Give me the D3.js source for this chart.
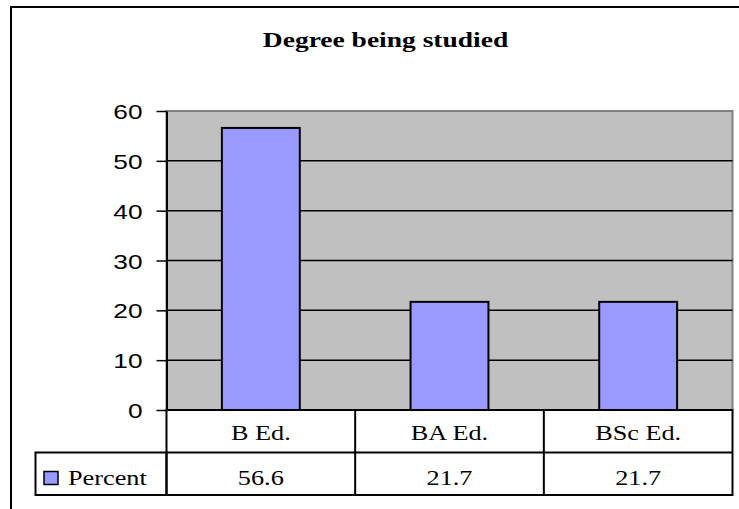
<!DOCTYPE html>
<html>
<head>
<meta charset="utf-8">
<script src="https://cdn.jsdelivr.net/npm/d3@7"></script>
<style>
  html, body { margin: 0; padding: 0; background: #fff; overflow: hidden; }
</style>
</head>
<body>
<svg id="chart" width="739" height="509"></svg>
<script>
const title = "Degree being studied";
const categories = ["B Ed.", "BA Ed.", "BSc Ed."];
const percent = [56.6, 21.7, 21.7];
const seriesName = "Percent";
const yTicks = [0, 10, 20, 30, 40, 50, 60];

const width = 739, height = 509;
const plot = { left: 166.5, right: 732.5, top: 111, bottom: 410 };
const rowH = 42.5;
const stretch = 1.25; // text in the reference is widened horizontally
const serif = "'Liberation Serif', 'Times New Roman', serif";
const sans = "'Liberation Sans', Arial, sans-serif";

const svg = d3.select("#chart").attr("viewBox", [0, 0, width, height]);

// outer chart border (runs off the right and bottom edges)
svg.append("rect")
  .attr("x", 11).attr("y", 7)
  .attr("width", width + 20).attr("height", height + 20)
  .attr("fill", "#fff").attr("stroke", "#000").attr("stroke-width", 2);

// title
svg.append("text")
  .attr("transform", `translate(385.5,47) scale(${stretch},1)`)
  .attr("text-anchor", "middle")
  .attr("font-family", serif).attr("font-weight", "bold").attr("font-size", 22)
  .text(title);

const x = d3.scaleBand().domain(categories).range([plot.left, plot.right]);
const y = d3.scaleLinear().domain([0, 60]).range([plot.bottom, plot.top]);

// plot area
svg.append("rect")
  .attr("x", plot.left).attr("y", plot.top)
  .attr("width", plot.right - plot.left).attr("height", plot.bottom - plot.top)
  .attr("fill", "#c0c0c0").attr("stroke", "#808080").attr("stroke-width", 2);

// gridlines
svg.append("g")
  .selectAll("line")
  .data(yTicks.filter((d) => d > 0 && d < 60))
  .join("line")
  .attr("x1", plot.left).attr("x2", plot.right)
  .attr("y1", (d) => y(d)).attr("y2", (d) => y(d))
  .attr("stroke", "#000").attr("stroke-width", 1.5);

// bars
const barW = x.bandwidth() * 0.413;
svg.append("g")
  .selectAll("rect")
  .data(percent)
  .join("rect")
  .attr("x", (d, i) => x(categories[i]) + (x.bandwidth() - barW) / 2)
  .attr("y", (d) => y(d))
  .attr("width", barW)
  .attr("height", (d) => y(0) - y(d))
  .attr("fill", "#9999ff").attr("stroke", "#000").attr("stroke-width", 2);

// y axis
const yAxis = (g) =>
  g.attr("transform", `translate(${plot.left},0)`)
    .call(d3.axisLeft(y).tickValues(yTicks).tickSize(10).tickSizeOuter(0))
    .call((g) => g.select(".domain").attr("stroke", "#000").attr("stroke-width", 2))
    .call((g) => g.selectAll(".tick line").attr("stroke", "#000").attr("stroke-width", 1.5))
    .call((g) => g.selectAll(".tick text")
      .attr("x", -24 / stretch)
      .attr("dy", "0.36em")
      .attr("transform", `scale(${stretch},1)`)
      .attr("fill", "#000")
      .attr("font-family", sans)
      .attr("font-size", 21));
svg.append("g").call(yAxis);

// data table
const table = svg.append("g")
  .attr("fill", "none").attr("stroke", "#000").attr("stroke-width", 2);
table.append("rect")
  .attr("x", plot.left).attr("y", plot.bottom)
  .attr("width", plot.right - plot.left).attr("height", rowH * 2);
table.append("rect")
  .attr("x", 35.5).attr("y", plot.bottom + rowH)
  .attr("width", plot.left - 35.5).attr("height", rowH);
table.append("line")
  .attr("x1", plot.left).attr("x2", plot.right)
  .attr("y1", plot.bottom + rowH).attr("y2", plot.bottom + rowH);
table.selectAll("line.col")
  .data(categories.slice(1))
  .join("line")
  .attr("class", "col")
  .attr("x1", (d) => x(d)).attr("x2", (d) => x(d))
  .attr("y1", plot.bottom).attr("y2", plot.bottom + rowH * 2);

const cellText = (sel, baseline) =>
  sel.attr("transform", (d, i) =>
      `translate(${x(categories[i]) + x.bandwidth() / 2},${baseline}) scale(${stretch},1)`)
    .attr("text-anchor", "middle")
    .attr("font-family", serif).attr("font-size", 21).attr("fill", "#000");

svg.append("g").selectAll("text")
  .data(categories)
  .join("text")
  .call(cellText, 440)
  .text((d) => d);

svg.append("g").selectAll("text")
  .data(percent)
  .join("text")
  .call(cellText, 485)
  .text((d) => d3.format(".1f")(d));

// legend key inside the table
svg.append("rect")
  .attr("x", 44).attr("y", 471.5).attr("width", 14).attr("height", 13)
  .attr("fill", "#9999ff").attr("stroke", "#000").attr("stroke-width", 1.5);
svg.append("text")
  .attr("transform", `translate(68,485) scale(${stretch},1)`)
  .attr("font-family", serif).attr("font-size", 21).attr("fill", "#000")
  .text(seriesName);
</script>
</body>
</html>
